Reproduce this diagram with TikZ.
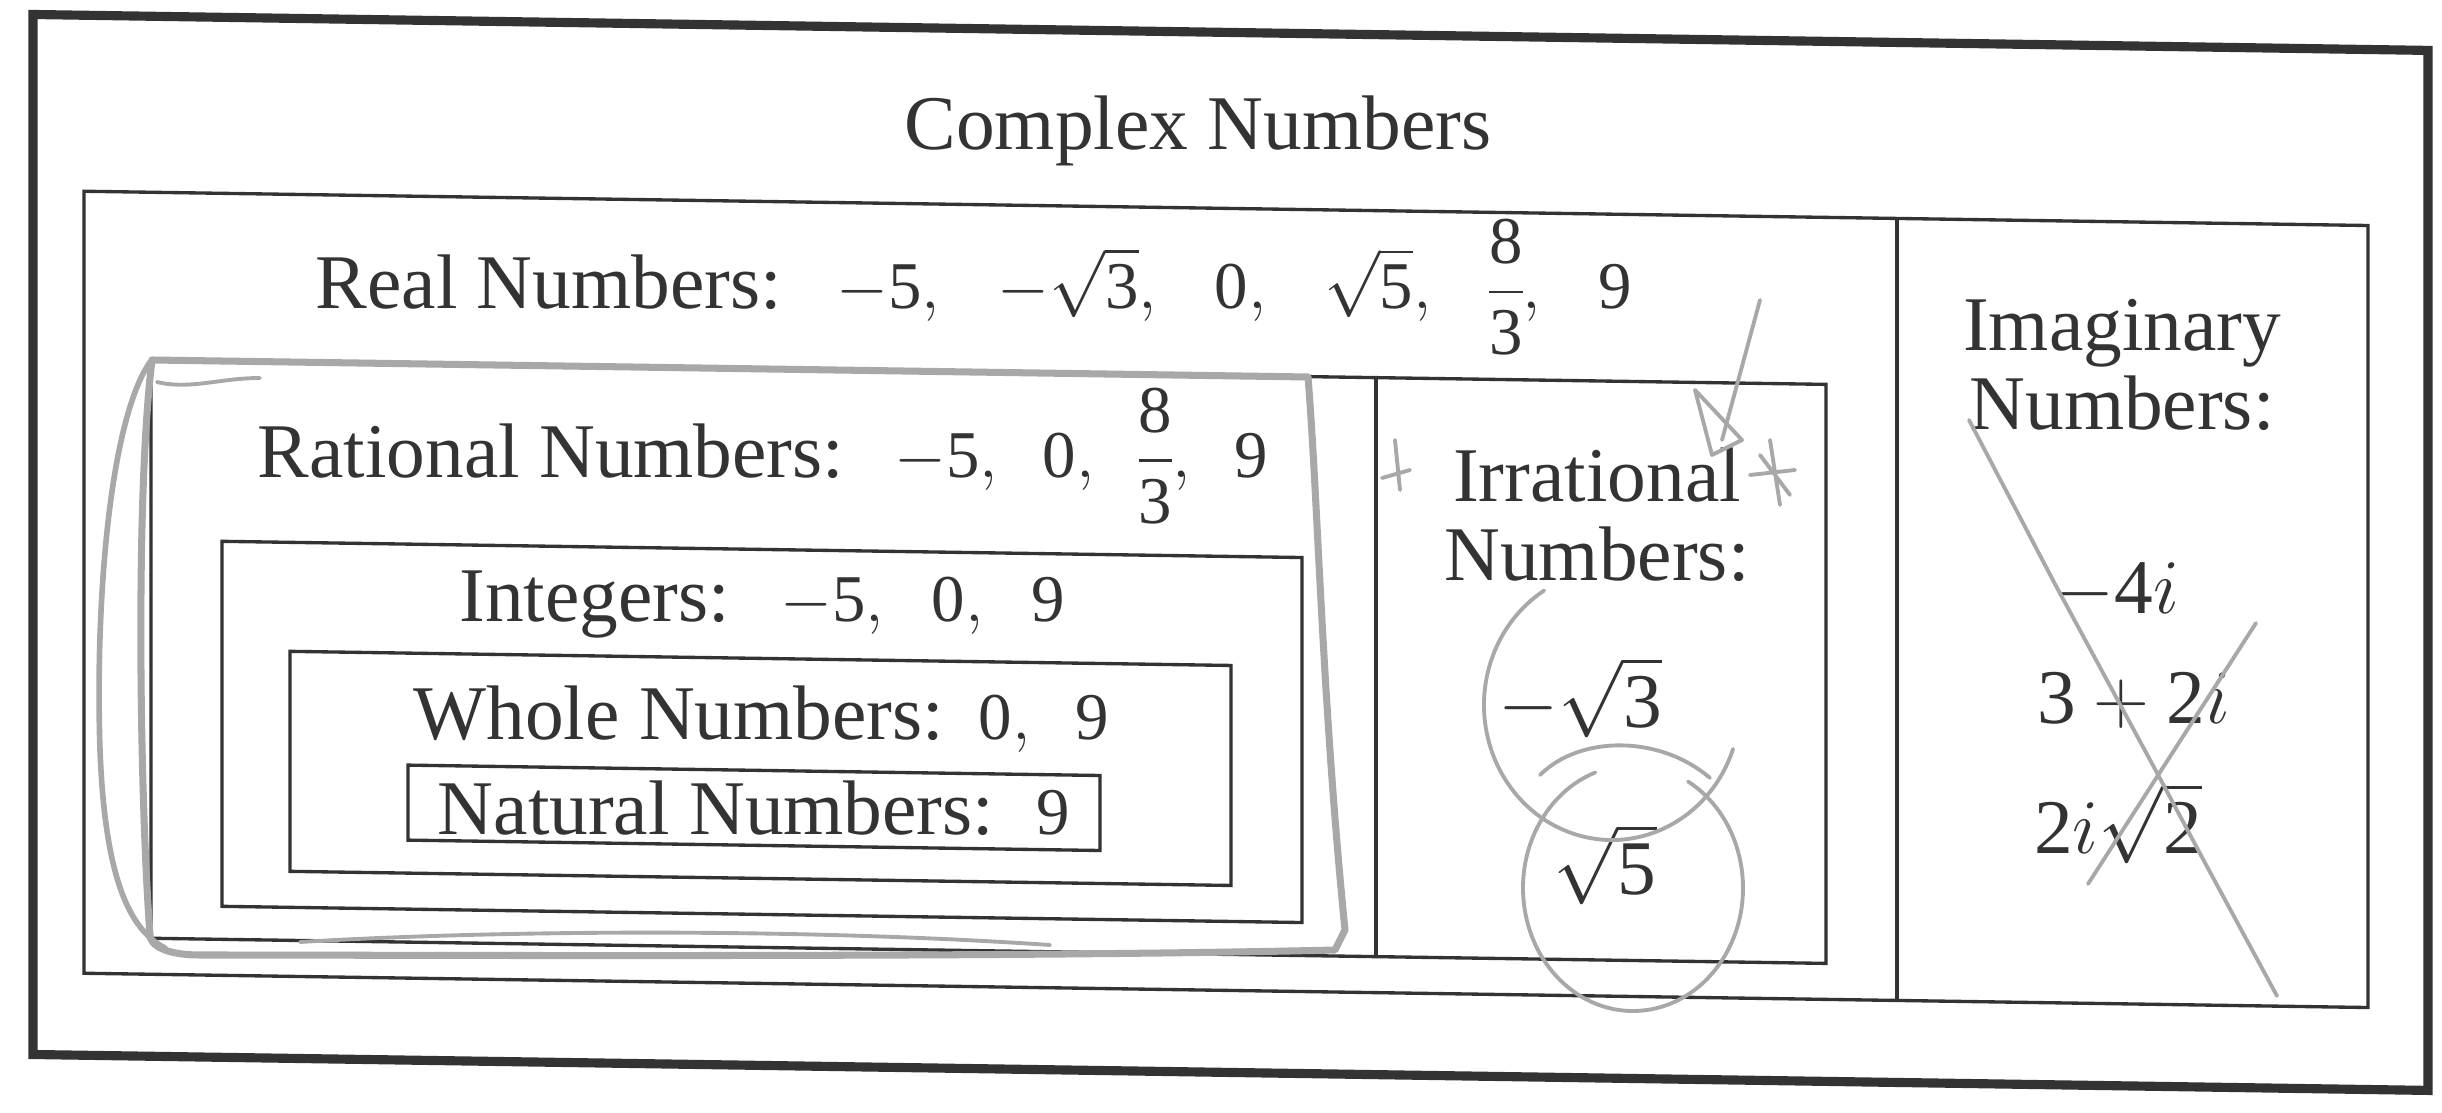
\RequirePackage{fix-cm}
\documentclass[tikz,border=0pt]{standalone}
\usepackage{amsmath,amssymb}
\usepackage[no-math]{fontspec}
\setmainfont{Liberation Serif}
\usepackage{xcolor}
\usepackage{tikz}
\usetikzlibrary{positioning}

% digits in formulas come from the text face, as in the print
\DeclareSymbolFont{txtdigits}{TU}{\rmdefault}{m}{n}
\DeclareMathSymbol{0}{\mathalpha}{txtdigits}{"30}
\DeclareMathSymbol{1}{\mathalpha}{txtdigits}{"31}
\DeclareMathSymbol{2}{\mathalpha}{txtdigits}{"32}
\DeclareMathSymbol{3}{\mathalpha}{txtdigits}{"33}
\DeclareMathSymbol{4}{\mathalpha}{txtdigits}{"34}
\DeclareMathSymbol{5}{\mathalpha}{txtdigits}{"35}
\DeclareMathSymbol{6}{\mathalpha}{txtdigits}{"36}
\DeclareMathSymbol{7}{\mathalpha}{txtdigits}{"37}
\DeclareMathSymbol{8}{\mathalpha}{txtdigits}{"38}
\DeclareMathSymbol{9}{\mathalpha}{txtdigits}{"39}

\definecolor{ink}{gray}{0.2}
\definecolor{pencil}{gray}{0.66}

% the listed members are set a little smaller than the words
\newcommand{\vals}[2][0.65em]{\hspace{#1}{\fontsize{19}{21}\selectfont\nulldelimiterspace=0pt$#2$}}

\begin{document}
\begin{tikzpicture}[
  x=0.01cm, y=-0.01cm,
  frame/.style={draw=ink, line width=2.6pt},
  setbox/.style={draw=ink, line width=0.95pt},
  label/.style={text=ink, inner sep=0pt, anchor=base, font=\fontsize{22}{22.5}\selectfont},
  twoline/.style={label, anchor=north, align=center},
  pencil/.style={draw=pencil, line width=1.1pt, line cap=round, line join=round},
]
\useasboundingbox (0,0) rectangle (2442,1113);

% the printed chart (the scan is slightly skewed)
\begin{scope}[yslant=-0.015]
  \draw[frame] (33,14) rectangle (2428,1054);
  \draw[setbox] (84,190) rectangle (2368,972);
  \draw[setbox] (1897,190) -- (1897,972);
  \draw[setbox] (151,357) rectangle (1826,936);
  \draw[setbox] (1376,357) -- (1376,936);
  \draw[setbox] (222,538) rectangle (1302,903);
  \draw[setbox] (290,647) rectangle (1231,867);
  \draw[setbox] (408,759) rectangle (1100,834);

  \node[label] (title) at (1198,132) {Complex Numbers};
  \node[label] (realLbl) at (974,294) {Real Numbers:\vals[0.7em]{-5,\hspace{0.7em} -\sqrt{3},\hspace{0.7em} 0,\hspace{0.7em} \sqrt{5},\hspace{0.7em} \dfrac{8}{3},\hspace{0.7em} 9}};
  \node[label] (ratLbl) at (763,466) {Rational Numbers:\vals{-5,\hspace{0.5em} 0,\hspace{0.5em} \dfrac{8}{3},\hspace{0.5em} 9}};
  \node[label] (intLbl) at (762,610) {Integers:\vals{-5,\hspace{0.55em} 0,\hspace{0.55em} 9}};
  \node[label] (wholeLbl) at (761,728) {Whole Numbers:\vals[0.45em]{0,\hspace{0.5em} 9}};
  \node[label] (natLbl) at (754,823) {Natural Numbers:\vals[0.55em]{9}};

  \node[twoline] (irrLbl) at (1597,423) {Irrational\\Numbers:};
  \node[label] (irrA) at (1580,704) {$-\sqrt{3}$};
  \node[label] (irrB) at (1605,870) {$\sqrt{5}$};

  \node[twoline] (imagLbl) at (2122,267) {Imaginary\\Numbers:};
  \node[label] (imA) at (2117,582) {$-4i$};
  \node[label] (imB) at (2134,691) {$3+2i$};
  \node[label] (imC) at (2118,822) {$2i\sqrt{2}$};
\end{scope}

% pencil marks
\draw[pencil, line width=2pt] (152,360) -- (700,368) -- (1308,377)
  .. controls (1318,500) and (1322,700) .. (1345,930) -- (1335,950)
  .. controls (1000,958) and (400,955) .. (200,955)
  .. controls (165,955) and (150,945) .. (150,935)
  .. controls (140,800) and (135,500) .. (152,360);
\draw[pencil, line width=1.6pt] (150,362) .. controls (110,420) and (95,600) .. (100,750)
  .. controls (105,880) and (130,930) .. (165,948);
\draw[pencil] (157,382) .. controls (190,390) and (220,378) .. (260,378);
\draw[pencil] (300,942) .. controls (500,930) and (800,928) .. (1050,945);
\draw[pencil] (1760,300) -- (1722,440);
\draw[pencil] (1695,390) -- (1712,455) -- (1742,440) -- cycle;
\draw[pencil] (1395,440) -- (1400,490) (1382,478) -- (1410,470);
\draw[pencil] (1770,440) -- (1780,505) (1750,475) -- (1795,470) (1760,455) -- (1790,495);
\draw[pencil] (1612,705) ++(19:128 and 135) arc[start angle=19, end angle=238, x radius=128, y radius=135];
\draw[pencil] (1633,888) ++(-60:110 and 123) arc[start angle=-60, end angle=250, x radius=110, y radius=123];
\draw[pencil] (1540,775) .. controls (1580,735) and (1660,735) .. (1710,778);
\draw[pencil] (1969,420) -- (2056,586) -- (2156,771) -- (2204,861) -- (2277,996);
\draw[pencil] (2256,623) -- (2088,884);
\end{tikzpicture}
\end{document}
